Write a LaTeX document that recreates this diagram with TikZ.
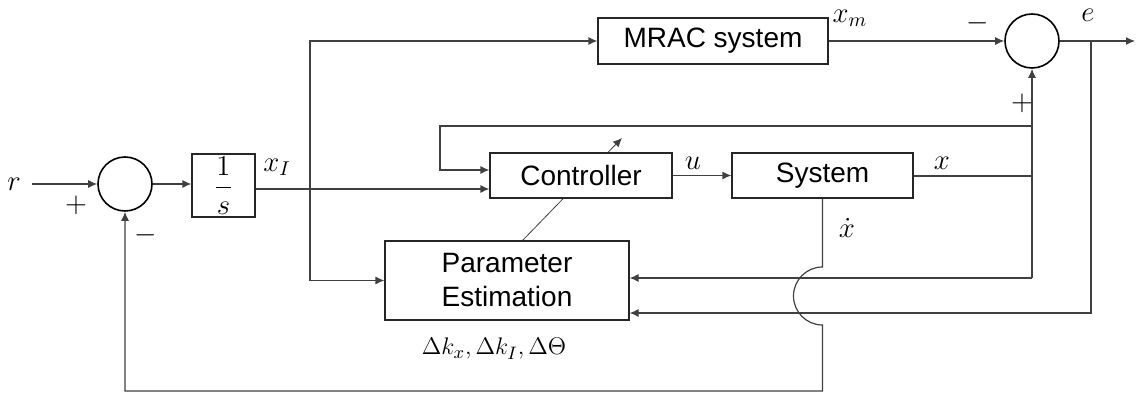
\documentclass[tikz,border=0pt]{standalone}
\usepackage{amsmath,amssymb}
\usepackage{fontspec}
\newfontfamily\blockfont{Liberation Sans}
\usepackage{tikz}
\usetikzlibrary{arrows.meta,positioning,backgrounds}

\begin{document}
\begin{tikzpicture}[
  x=0.5pt, y=-0.5pt, line width=0.6pt,
  blk/.style={draw=black!85, fill=white, minimum height=22.5pt, inner sep=0pt, align=center, font=\blockfont\fontsize{14}{17}\selectfont},
  sumc/.style={draw, circle, minimum size=27pt, inner sep=0pt, line width=0.8pt},
  lbl/.style={inner sep=0pt, font=\fontsize{14}{17}\selectfont},
  sgn/.style={inner sep=0pt, font=\fontsize{14}{17}\selectfont},
  wire/.style={draw=black!75},
  arr/.style={wire, -{Latex[length=4.5pt,width=4pt]}}]
\useasboundingbox (0,0) rectangle (1141,394);
\node[sumc] (sum1) at (125,184) {};
\node[blk, minimum width=31.5pt, minimum height=31.5pt] (integ) at (223.5,185.5) {$\dfrac{1}{s}$};
\node[blk, minimum width=115pt, minimum height=23pt] (mrac) at (713,41) {MRAC system};
\node[sumc] (sum2) at (1032,41) {};
\node[blk, minimum width=91pt] (ctrl) at (581,175.5) {Controller};
\node[blk, minimum width=90.5pt] (sys) at (822.5,175.5) {System};
\node[blk, minimum width=122pt, minimum height=39.5pt] (pe) at (507,280.5) {Parameter\\Estimation};
% input side
\coordinate (rin) at (32,184);
\node[lbl] (rlbl) at (14,184) {$r$};
\node[sgn] (plus1) at (76,205) {$+$};
\node[sgn] (minus1) at (146,235) {$-$};
\draw[arr] (rin) -- (sum1.west);
\draw[arr] (sum1.east) -- (integ.west |- sum1.east);
\node[lbl] (xilbl) at (277,167) {$x_I$};
\coordinate (xij) at (310,189);
\draw[arr] (integ.east |- xij) -- (ctrl.west |- xij);
\draw[arr] (xij) |- (mrac.west);
\draw[arr] (xij) |- (pe.west);
% reference model and error
\node[lbl] (xmlbl) at (850,18) {$x_m$};
\node[sgn] (minus2) at (978,23) {$-$};
\draw[arr] (mrac.east) -- (sum2.west);
\coordinate (eout) at (1135,41);
\coordinate (ej) at (1091,41);
\coordinate (ebot) at (1091,313);
\node[lbl] (elbl) at (1088,15) {$e$};
\draw[arr] (sum2.east) -- (eout);
\draw[arr] (ej) -- (ebot) -- (pe.east |- ebot);
% plant loop
\node[lbl] (ulbl) at (693,163) {$u$};
\draw[arr] (ctrl) -- (sys);
\coordinate (xj) at (1032,176);
\coordinate (xlow) at (1032,278);
\coordinate (fbtop) at (1032,126);
\coordinate (fbleft) at (440,126);
\coordinate (cin1) at (440,170);
\node[lbl] (xlbl) at (942,163) {$x$};
\node[sgn] (plus2) at (1022,103) {$+$};
\draw[wire] (sys.east |- xj) -- (xj);
\draw[arr] (xlow) -- (sum2.south);
\draw[arr] (xlow) -- (pe.east |- xlow);
\draw[arr] (fbtop) -- (fbleft) -- (cin1) -- (ctrl.west |- cin1);
% xdot feedback with hop
\coordinate (hop) at (822.5,267);
\coordinate (fbbot) at (822.5,391);
\node[lbl] (xdlbl) at (847,228) {$\dot{x}$};
\draw[arr] (sys.south) -- (hop) arc[start angle=90, end angle=270, radius=14.5pt] -- (fbbot) -| (sum1.south);
\node[lbl, font=\fontsize{12.5}{15}\selectfont] (dlbl) at (494,349) {$\Delta k_x, \Delta k_I, \Delta\Theta$};
% tuning arrow
\coordinate (tune0) at (522,241);
\coordinate (tune1) at (622,138);
\begin{scope}[on background layer]
\draw[arr] (tune0) -- (tune1);
\end{scope}
\end{tikzpicture}
\end{document}
